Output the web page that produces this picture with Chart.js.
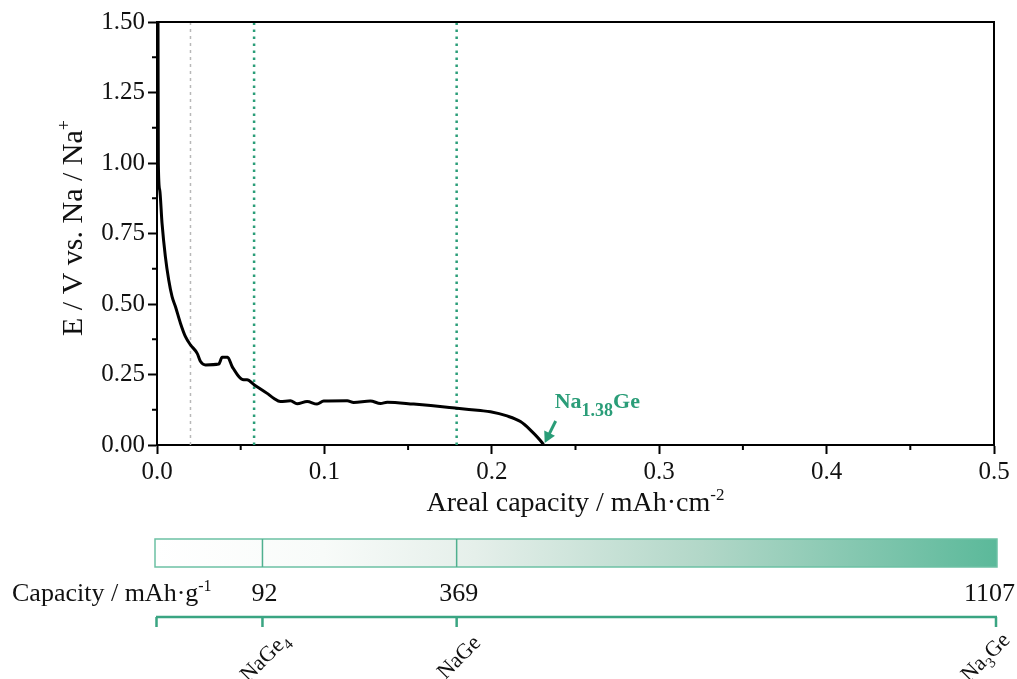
<!DOCTYPE html>
<html>
<head>
<meta charset="utf-8">
<title>Na-Ge discharge</title>
<script src="https://cdn.jsdelivr.net/npm/chart.js@4"></script>
<style>
  html, body { margin: 0; padding: 0; background: #fff; }
  #wrap { width: 1017px; height: 679px; position: relative; }
</style>
</head>
<body>
<div id="wrap"><canvas id="chart"></canvas></div>
<script>
// discharge curve
const arealCap = [0.0006, 0.0008, 0.0016, 0.003, 0.005, 0.007, 0.009, 0.011, 0.014, 0.017,
  0.020, 0.024, 0.026, 0.029, 0.0369, 0.0389, 0.0422, 0.0449, 0.0518, 0.0538,
  0.0582, 0.0658, 0.0697, 0.0737, 0.0797, 0.0837, 0.0897, 0.0956, 0.0996, 0.1136,
  0.1175, 0.1275, 0.1335, 0.1375, 0.1533, 0.1733, 0.1793, 0.1932, 0.1992, 0.2091,
  0.2171, 0.2231, 0.2301, 0.231];
const potential = [1.50, 1.00, 0.905, 0.787, 0.668, 0.585, 0.526, 0.491, 0.432, 0.384,
  0.355, 0.325, 0.296, 0.284, 0.287, 0.311, 0.311, 0.278, 0.231, 0.231,
  0.213, 0.183, 0.166, 0.154, 0.157, 0.146, 0.154, 0.145, 0.156, 0.157,
  0.151, 0.156, 0.147, 0.152, 0.145, 0.134, 0.130, 0.122, 0.118, 0.103,
  0.083, 0.053, 0.008, 0.0];

const greyLine = [0.02];
const greenLines = [0.058, 0.179];

// lower band: phases and their specific capacities
const phaseNames = ['NaGe4', 'NaGe', 'Na3Ge'];
const phasePos = [0.063, 0.179, 0.5];
const specCapacity = [92, 369, 1107];

const endLabel = { x: 0.231, y: 0.0, text: ['Na', '1.38', 'Ge'] };

const GREEN = '#2a9d78';
const SERIF = '"Liberation Serif", "Times New Roman", serif';

function vline(x) { return [{ x: x, y: 0 }, { x: x, y: 1.5 }]; }

function drawRich(ctx, parts, x, y, align) {
  let w = 0;
  parts.forEach(p => { ctx.font = p.font; w += ctx.measureText(p.t).width; });
  let cx = align === 'center' ? x - w / 2 : align === 'right' ? x - w : x;
  ctx.textAlign = 'left';
  ctx.textBaseline = 'alphabetic';
  parts.forEach(p => {
    ctx.font = p.font;
    ctx.fillText(p.t, cx, y + (p.dy || 0));
    cx += ctx.measureText(p.t).width;
  });
  return w;
}

function formulaParts(name, size) {
  // digits become subscripts
  return name.split(/(\d+)/).filter(s => s).map(s => /\d/.test(s)
    ? { t: s, font: Math.round(size * 0.68) + 'px ' + SERIF, dy: size * 0.25 }
    : { t: s, font: size + 'px ' + SERIF });
}

const extras = {
  id: 'extras',
  afterDraw(chart) {
    const ctx = chart.ctx;
    const xs = chart.scales.x, ys = chart.scales.y;
    const a = chart.chartArea;
    ctx.save();

    // top / right frame
    ctx.strokeStyle = '#000';
    ctx.lineWidth = 2;
    ctx.beginPath();
    ctx.moveTo(a.left, a.top); ctx.lineTo(a.right, a.top); ctx.lineTo(a.right, a.bottom);
    ctx.stroke();

    // minor ticks halfway between majors
    ctx.lineWidth = 2;
    ctx.beginPath();
    for (let i = 1; i < xs.ticks.length; i++) {
      const px = xs.getPixelForValue((xs.ticks[i - 1].value + xs.ticks[i].value) / 2);
      ctx.moveTo(px, a.bottom); ctx.lineTo(px, a.bottom + 5);
    }
    for (let i = 1; i < ys.ticks.length; i++) {
      const py = ys.getPixelForValue((ys.ticks[i - 1].value + ys.ticks[i].value) / 2);
      ctx.moveTo(a.left - 5, py); ctx.lineTo(a.left, py);
    }
    ctx.stroke();

    // axis titles
    ctx.fillStyle = '#111';
    drawRich(ctx, [
      { t: 'Areal capacity / mAh\u00b7cm', font: '28px ' + SERIF },
      { t: '-2', font: '17px ' + SERIF, dy: -11 }
    ], (a.left + a.right) / 2, 511, 'center');

    ctx.save();
    ctx.translate(82, 228);
    ctx.rotate(-Math.PI / 2);
    drawRich(ctx, [
      { t: 'E / V vs. Na / Na', font: '30px ' + SERIF },
      { t: '+', font: '18px ' + SERIF, dy: -12 }
    ], 0, 0, 'center');
    ctx.restore();

    // end-of-discharge annotation
    const ex = xs.getPixelForValue(endLabel.x), ey = ys.getPixelForValue(endLabel.y);
    ctx.fillStyle = GREEN;
    ctx.strokeStyle = GREEN;
    drawRich(ctx, [
      { t: endLabel.text[0], font: 'bold 22px ' + SERIF },
      { t: endLabel.text[1], font: 'bold 18px ' + SERIF, dy: 8 },
      { t: endLabel.text[2], font: 'bold 22px ' + SERIF }
    ], ex + 11, ey - 37, 'left');
    const tx = ex + 12, ty = ey - 24, hx = ex + 1, hy = ey - 2;
    const ang = Math.atan2(hy - ty, hx - tx);
    ctx.lineWidth = 3;
    ctx.beginPath();
    ctx.moveTo(tx, ty);
    ctx.lineTo(hx - 8 * Math.cos(ang), hy - 8 * Math.sin(ang));
    ctx.stroke();
    ctx.beginPath();
    ctx.moveTo(hx, hy);
    ctx.lineTo(hx - 11 * Math.cos(ang) + 6 * Math.sin(ang), hy - 11 * Math.sin(ang) - 6 * Math.cos(ang));
    ctx.lineTo(hx - 11 * Math.cos(ang) - 6 * Math.sin(ang), hy - 11 * Math.sin(ang) + 6 * Math.cos(ang));
    ctx.closePath();
    ctx.fill();

    // gradient capacity band
    const x0 = xs.getPixelForValue(0) - 2;
    const x1 = xs.getPixelForValue(phasePos[phasePos.length - 1]) + 3;
    const bTop = 539, bBot = 567;
    const grad = ctx.createLinearGradient(x0, 0, x1, 0);
    grad.addColorStop(0, '#ffffff');
    grad.addColorStop(0.2, '#f8fbf9');
    grad.addColorStop(0.38, '#e5efea');
    grad.addColorStop(0.65, '#b2d7c8');
    grad.addColorStop(1, '#5bb99a');
    ctx.fillStyle = grad;
    ctx.fillRect(x0, bTop, x1 - x0, bBot - bTop);
    ctx.strokeStyle = '#6cc1a4';
    ctx.lineWidth = 1.5;
    ctx.strokeRect(x0, bTop, x1 - x0, bBot - bTop);
    ctx.strokeStyle = '#4fb08f';
    ctx.beginPath();
    phasePos.slice(0, -1).forEach(v => {
      const px = xs.getPixelForValue(v);
      ctx.moveTo(px, bTop); ctx.lineTo(px, bBot);
    });
    ctx.stroke();

    // capacity values
    ctx.fillStyle = '#111';
    drawRich(ctx, [
      { t: 'Capacity / mAh\u00b7g', font: '26px ' + SERIF },
      { t: '-1', font: '16px ' + SERIF, dy: -10 }
    ], 12, 601, 'left');
    ctx.font = '26px ' + SERIF;
    specCapacity.forEach((c, i) => {
      const w = ctx.measureText(String(c)).width;
      const cx = Math.min(xs.getPixelForValue(phasePos[i]) + 2, 1015 - w / 2);
      ctx.textAlign = 'center';
      ctx.fillText(String(c), cx, 601);
    });

    // phase bracket
    const brY = 617;
    ctx.strokeStyle = '#3aa582';
    ctx.lineWidth = 2.5;
    ctx.beginPath();
    ctx.moveTo(x0 + 1, brY); ctx.lineTo(x1, brY);
    [0].concat(phasePos).forEach(v => {
      let px = xs.getPixelForValue(v);
      if (v === 0) px = x0 + 1.5;
      if (v === phasePos[phasePos.length - 1]) px = x1 - 1;
      ctx.moveTo(px, brY); ctx.lineTo(px, brY + 10);
    });
    ctx.stroke();

    // rotated phase names
    ctx.fillStyle = '#111';
    phaseNames.forEach((n, i) => {
      const parts = formulaParts(n, 22);
      let w = 0;
      parts.forEach(p => { ctx.font = p.font; w += ctx.measureText(p.t).width; });
      const half = w / 2 * Math.SQRT1_2 + 8;
      const cx = Math.min(xs.getPixelForValue(phasePos[i]) + 2, 1014 - half);
      ctx.save();
      ctx.translate(cx, 657);
      ctx.rotate(-Math.PI / 4);
      drawRich(ctx, parts, 0, 7, 'center');
      ctx.restore();
    });

    ctx.restore();
  }
};

const tickFont = { family: SERIF, size: 25 };

new Chart(document.getElementById('chart'), {
  type: 'scatter',
  data: {
    datasets: [
      {
        data: arealCap.map((x, i) => ({ x: x, y: potential[i] })),
        showLine: true, borderColor: '#000', borderWidth: 3,
        pointRadius: 0, cubicInterpolationMode: 'monotone', order: 0
      },
      ...greyLine.map(x => ({
        data: vline(x), showLine: true, borderColor: '#b8b8b8', borderWidth: 1.5,
        borderDash: [3, 4], pointRadius: 0, order: 2
      })),
      ...greenLines.map(x => ({
        data: vline(x), showLine: true, borderColor: GREEN, borderWidth: 2.5,
        borderDash: [2.5, 4.5], pointRadius: 0, order: 1
      }))
    ]
  },
  options: {
    responsive: true,
    maintainAspectRatio: false,
    animation: false,
    devicePixelRatio: 1,
    layout: { padding: { top: 22, right: 23, left: 0, bottom: 0 } },
    plugins: { legend: { display: false }, tooltip: { enabled: false } },
    scales: {
      x: {
        min: 0, max: 0.5,
        afterFit(s) { s.height = 234; },
        ticks: { stepSize: 0.1, color: '#111', font: tickFont, padding: 3,
          maxRotation: 0, callback: v => v.toFixed(1) },
        grid: { drawOnChartArea: false, drawTicks: true, tickLength: 9, tickWidth: 2, tickColor: '#000' },
        border: { display: true, color: '#000', width: 2 }
      },
      y: {
        min: 0, max: 1.5,
        afterFit(s) { s.width = 157; },
        ticks: { stepSize: 0.25, color: '#111', font: tickFont, padding: 3,
          callback: v => v.toFixed(2) },
        grid: { drawOnChartArea: false, drawTicks: true, tickLength: 9, tickWidth: 2, tickColor: '#000' },
        border: { display: true, color: '#000', width: 2 }
      }
    }
  },
  plugins: [extras]
});
</script>
</body>
</html>
